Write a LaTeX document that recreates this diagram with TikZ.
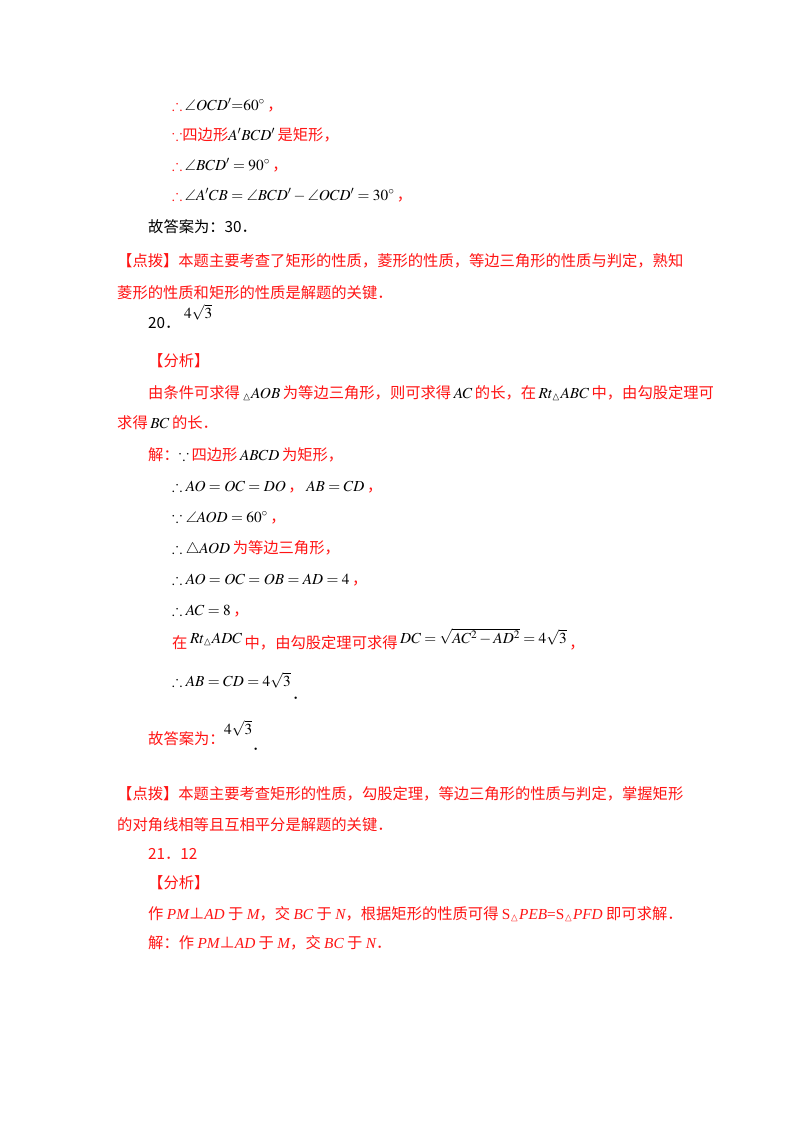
\documentclass[tikz,border=0pt]{standalone}
\usepackage{amsmath,amssymb}
\usepackage{mathptmx}
\usepackage{fontspec}
\setmainfont{Liberation Serif}
\newfontfamily\cjk{Noto Sans CJK SC}
\definecolor{rd}{RGB}{255,20,20}
\newcommand{\zh}[1]{{\cjk\color{rd}#1}}
\newcommand{\zk}[1]{{\cjk #1}}
\newcommand{\li}[1]{{\rmfamily\itshape #1}}
\newcommand{\rt}{\textcolor{rd}{$\boldsymbol{\therefore}$}}
\newcommand{\rb}{\textcolor{rd}{$\boldsymbol{\because}$}}
\begin{document}
\begin{tikzpicture}[x=1pt,y=-1pt,every node/.style={anchor=base west,inner sep=0pt,font=\fontsize{15.3}{18}\selectfont}]
\useasboundingbox[fill=white] (0,0) rectangle (800,1132);
\node (l1) at (172,110) {\rt\,$\angle OCD'{=}60^\circ$\,\zh{，}};
\node (l2) at (172,140) {\rb\zh{四边形}$A'BCD'$\,\zh{是矩形，}};
\node (l3) at (172,170) {\rt\,$\angle BCD'=90^\circ$\,\zh{，}};
\node (l4) at (172,200) {\rt\,$\angle A'CB=\angle BCD'-\angle OCD'=30^\circ$\,\zh{，}};
\node (l5) at (148,232) {\zk{故答案为：30．}};
\node (l6) at (117,266) {\zh{【点拨】本题主要考查了矩形的性质，菱形的性质，等边三角形的性质与判定，熟知}};
\node (l7) at (117,298) {\zh{菱形的性质和矩形的性质是解题的关键．}};
\node (l8) at (148,328) {\zk{20．}};
\node (l8b) at (184,318) {$4\sqrt{3}$};
\node (l9) at (148,366) {\zh{【分析】}};
\node (l10) at (148,398) {\zh{由条件可求得}\,$_\vartriangle AOB$\,\zh{为等边三角形，则可求得}\,$AC$\,\zh{的长，在}\,$Rt_\vartriangle ABC$\,\zh{中，由勾股定理可}};
\node (l11) at (117,428) {\zh{求得}\,$BC$\,\zh{的长．}};
\node (l12) at (148,460) {\zh{解：}$\because$\,\zh{四边形}\,$ABCD$\,\zh{为矩形，}};
\node (l13) at (172,491) {$\therefore AO=OC=DO$\,\zh{，}\,$AB=CD$\,\zh{，}};
\node (l14) at (172,522) {$\because \angle AOD=60^\circ$\,\zh{，}};
\node (l15) at (172,553) {$\therefore \triangle AOD$\,\zh{为等边三角形，}};
\node (l16) at (172,584) {$\therefore AO=OC=OB=AD=4$\,\zh{，}};
\node (l17) at (172,615) {$\therefore AC=8$\,\zh{，}};
\node (l18) at (172,648) {\zh{在}\,\raisebox{5pt}{$Rt_\vartriangle ADC$}\,\zh{中，由勾股定理可求得}\,\raisebox{5pt}{$DC=\sqrt{AC^2-AD^2}=4\sqrt{3}$}\,\zh{，}};
\node (l19) at (172,686) {$\therefore AB=CD=4\sqrt{3}$};
\node (l19d) at (292,699) {\zk{．}};
\node (l20) at (148,744) {\zh{故答案为：}};
\node (l20b) at (224,734) {$4\sqrt{3}$};
\node (l20d) at (252,750) {\zk{．}};
\node (l21) at (117,799) {\zh{【点拨】本题主要考查矩形的性质，勾股定理，等边三角形的性质与判定，掌握矩形}};
\node (l22) at (117,830) {\zh{的对角线相等且互相平分是解题的关键．}};
\node (l23) at (148,859) {\zh{21．12}};
\node (l24) at (148,888) {\zh{【分析】}};
\node (l25) at (148,919) {\zh{作 \li{PM}⊥\li{AD} 于 \li{M}，交 \li{BC} 于 \li{N}，根据矩形的性质可得 {\rmfamily S}$_\vartriangle$\li{PEB}{\rmfamily =S}$_\vartriangle$\li{PFD} 即可求解．}};
\node (l26) at (148,948) {\zh{解：作 \li{PM}⊥\li{AD} 于 \li{M}，交 \li{BC} 于 \li{N}．}};
\end{tikzpicture}
\end{document}
